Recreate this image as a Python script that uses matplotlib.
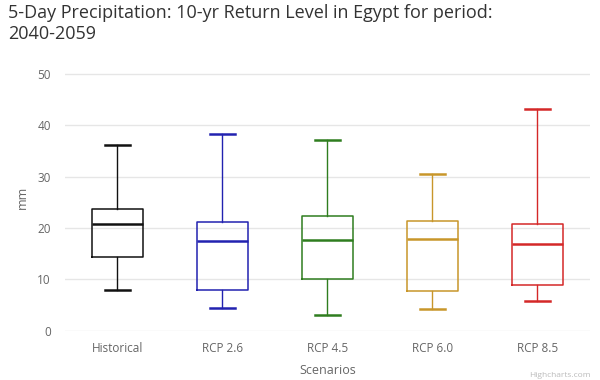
import matplotlib
matplotlib.use('Agg')
import matplotlib.pyplot as plt

# values (mm)
scenarios = ['Historical', 'RCP 2.6', 'RCP 4.5', 'RCP 6.0', 'RCP 8.5']
lows = [7.9, 4.4, 3.0, 4.2, 5.8]
q1s = [14.3, 8.0, 10.0, 7.8, 8.8]
medians = [20.8, 17.5, 17.7, 17.9, 16.9]
q3s = [23.7, 21.1, 22.3, 21.3, 20.7]
highs = [36.1, 38.4, 37.2, 30.6, 43.1]
colors = ['#111111', '#2222b0', '#2f7d1f', '#c8962a', '#d42828']
yticks = [0, 10, 20, 30, 40, 50]

plt.rcParams['font.family'] = ['Open Sans', 'DejaVu Sans']

fig = plt.figure(figsize=(6, 3.8), dpi=100)
ax = fig.add_axes([0.108, 0.13, 0.875, 0.702])

stats = []
for name, lo, a, m, b, hi in zip(scenarios, lows, q1s, medians, q3s, highs):
    stats.append({'label': name, 'whislo': lo, 'q1': a, 'med': m,
                  'q3': b, 'whishi': hi, 'fliers': []})

for i, (st, c) in enumerate(zip(stats, colors)):
    ax.bxp([st], positions=[i], widths=0.49, showfliers=False,
           boxprops=dict(color=c, linewidth=1.1),
           medianprops=dict(color=c, linewidth=1.8),
           whiskerprops=dict(color=c, linewidth=1.0),
           capprops=dict(color=c, linewidth=1.8),
           capwidths=0.24, manage_ticks=False)

ax.set_xlim(-0.5, len(scenarios) - 0.5)
ax.set_ylim(0, 52)
ax.set_yticks(yticks)
ax.set_xticks(range(len(scenarios)))
ax.set_xticklabels(scenarios)
ax.grid(axis='y', color='#e6e6e6', linewidth=1.0)
ax.set_axisbelow(True)
for s in ax.spines.values():
    s.set_visible(False)
ax.tick_params(length=0, labelsize=8.5, labelcolor='#666666')
ax.tick_params(axis='x', pad=8)
ax.tick_params(axis='y', pad=10)

ax.set_xlabel('Scenarios', fontsize=9, color='#666666', labelpad=7)
ax.set_ylabel('mm', fontsize=9, color='#666666', labelpad=6)

fig.text(0.013, 0.99, '5-Day Precipitation: 10-yr Return Level in Egypt for period:\n2040-2059',
         fontsize=13, color='#333333', va='top', ha='left', linespacing=1.2)
fig.text(0.985, 0.002, 'Highcharts.com', fontsize=6, color='#bbbbbb', ha='right', va='bottom')

fig.savefig('out.png', dpi=100)
